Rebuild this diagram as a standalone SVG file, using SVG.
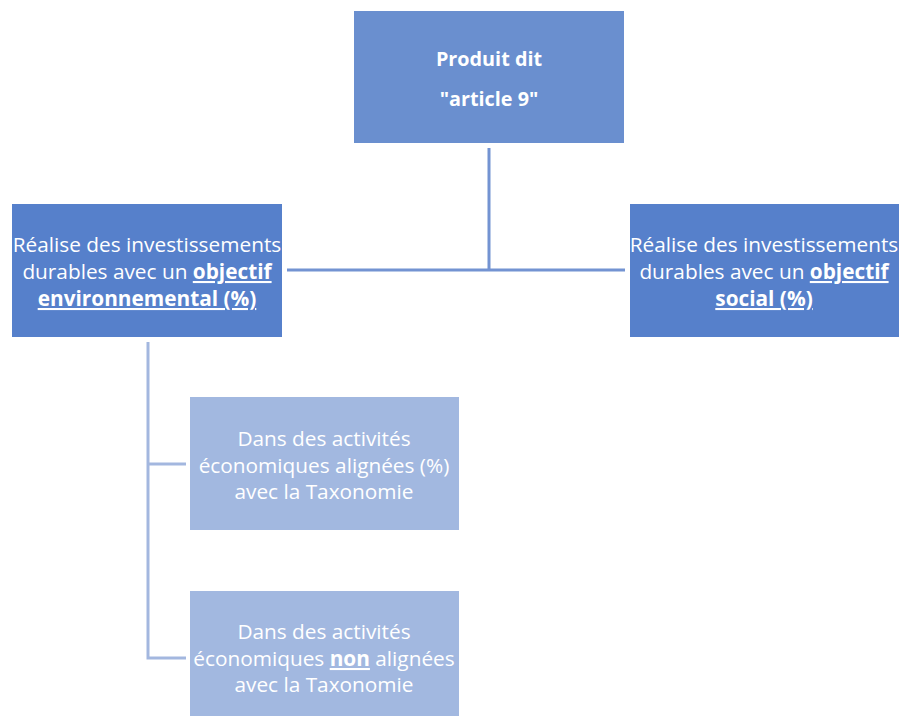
<svg xmlns="http://www.w3.org/2000/svg" width="904" height="716" viewBox="0 0 904 716">
<style>
text{font-family:"Open Sans","Liberation Sans",sans-serif;fill:#ffffff;text-anchor:middle;font-size:20.8px}
.t{font-size:19.8px}
.b{font-weight:bold}
.u{text-decoration:underline}
.c1{stroke:#7393d2;stroke-width:3;fill:none}
.c2{stroke:#a3b7df;stroke-width:3;fill:none}
</style>
<rect width="904" height="716" fill="#ffffff"/>
<g id="connectors">
<path class="c1" d="M489 148V270M287 270H625"/>
<path class="c2" d="M148 342V658H186M148 464H186"/>
</g>
<g id="n-article9">
<rect x="354" y="11" width="270" height="132" fill="#6a8fcf"/>
<text x="489" y="66" class="b t">Produit dit</text>
<text x="489" y="106" class="b t">"article 9"</text>
</g>
<g id="n-env">
<rect x="12" y="204" width="270" height="133" fill="#5680cb"/>
<text x="147" y="252">Réalise des investissements</text>
<text x="147" y="279">durables avec un <tspan class="b u">objectif</tspan></text>
<text x="147" y="306" class="b u">environnemental (%)</text>
</g>
<g id="n-social">
<rect x="630" y="204" width="269" height="133" fill="#5680cb"/>
<text x="764" y="252">Réalise des investissements</text>
<text x="764" y="279">durables avec un <tspan class="b u">objectif</tspan></text>
<text x="764" y="306" class="b u">social (%)</text>
</g>
<g id="n-alignees">
<rect x="190" y="397" width="269" height="133" fill="#a2b8e0"/>
<text x="324" y="446">Dans des activités</text>
<text x="324" y="473">économiques alignées (%)</text>
<text x="324" y="499">avec la Taxonomie</text>
</g>
<g id="n-non-alignees">
<rect x="190" y="591" width="269" height="125" fill="#a2b8e0"/>
<text x="324" y="639">Dans des activités</text>
<text x="324" y="666">économiques <tspan class="b u">non</tspan> alignées</text>
<text x="324" y="692">avec la Taxonomie</text>
</g>
</svg>
